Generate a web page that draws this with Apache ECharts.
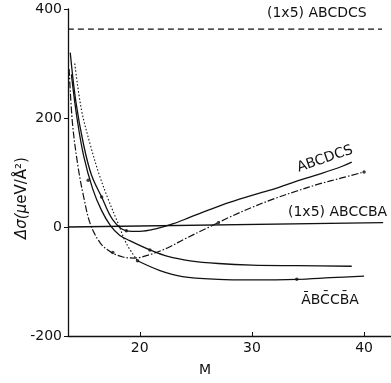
<!DOCTYPE html>
<html>
<head>
<meta charset="utf-8">
<script src="https://cdn.jsdelivr.net/npm/echarts@6/dist/echarts.min.js"></script>
<style>
  html, body { margin: 0; padding: 0; background: #fff; }
  #chart { width: 391px; height: 383px; }
</style>
</head>
<body>
<div id="chart"></div>
<script>
// M (x) vs delta sigma (y)
const xTicks = [20, 30, 40];
const yTicks = [-200, 0, 200, 400];

const flat1x5ABCDCS = [[13.6, 363], [41.6, 363]];
const flat1x5ABCCBA = [[13.6, 0], [41.7, 8]];

// dash-dot curve, rises to ~100
const curveA = [[13.7, 290], [14.0, 190], [14.5, 110], [15.0, 55], [15.6, 5], [16.5, -30], [17.5, -47],
  [18.5, -55], [19.5, -57], [21, -50], [22.5, -38], [24, -22], [26, -2], [28, 18], [30, 36],
  [32, 52], [34, 66], [36, 79], [38, 90], [40, 101]];

// ABCDCS
const curveB = [[13.8, 320], [14.3, 230], [15.0, 150], [15.7, 95], [16.6, 55], [17.6, 13], [18.8, -7],
  [20, -8], [21.5, -3], [23, 6], [24.5, 18], [26, 30], [28, 45], [30, 58], [32, 70], [34, 84],
  [36, 97], [38, 111], [38.9, 119]];

// levels off near -70
const curveC = [[13.9, 280], [14.4, 200], [15.0, 130], [15.8, 70], [16.6, 30], [17.4, 2], [18.2, -15],
  [19.1, -25], [20.9, -42], [22.5, -54], [24.5, -62], [27, -67], [30, -70], [34, -71], [38.9, -72]];

// lowest curve: dotted at the left, solid afterwards
const curveDleft = [[14.2, 300], [14.8, 215], [15.6, 150], [16.4, 95], [17.2, 50], [18.0, 10],
  [18.8, -30], [19.8, -62]];
const curveDright = [[19.8, -62], [21.8, -80], [23.8, -91], [27, -96], [30, -97], [34, -96],
  [37, -93], [40, -90]];

// visible data dots
const dots = [[16.6, 55], [18.8, -7], [17.6, -47], [40, 101], [19.8, -62], [34, -96], [15.4, 86],
  [27, 8], [20.9, -42]];

const FONT = 'DejaVu Sans';

const chart = echarts.init(document.getElementById('chart'));

function line(data, type, width) {
  return {
    type: 'line',
    data: data,
    smooth: 0.35,
    symbol: 'none',
    silent: true,
    lineStyle: { color: '#111', width: width || 1.2, type: type || 'solid' }
  };
}

const option = {
  backgroundColor: '#fff',
  animation: false,
  grid: { left: 68, right: 0, top: 9, bottom: 47 },
  xAxis: {
    type: 'value',
    min: 13.6,
    max: 42.4,
    splitLine: { show: false },
    axisLine: { onZero: false, lineStyle: { color: '#111', width: 1.3 } },
    axisTick: { inside: true, length: 4, lineStyle: { color: '#111' }, customValues: xTicks },
    axisLabel: { color: '#111', fontFamily: FONT, fontSize: 14, margin: 5, customValues: xTicks }
  },
  yAxis: {
    type: 'value',
    min: -200,
    max: 400,
    interval: 200,
    splitLine: { show: false },
    axisLine: { show: true, onZero: false, lineStyle: { color: '#111', width: 1.3 } },
    axisTick: { show: true, length: 4, lineStyle: { color: '#111' } },
    axisLabel: { color: '#111', fontFamily: FONT, fontSize: 14, margin: 6 }
  },
  graphic: [
    {
      type: 'text', x: 22, y: 198, rotation: Math.PI / 2,
      style: {
        text: '{i|Δσ(μ}{n|eV/Å²)}', align: 'center', verticalAlign: 'middle',
        rich: {
          i: { fontFamily: FONT, fontSize: 15, fontStyle: 'italic', fill: '#111' },
          n: { fontFamily: FONT, fontSize: 15, fill: '#111' }
        }
      }
    },
    { type: 'text', x: 205, y: 370, style: { text: 'M', fontFamily: FONT, fontSize: 14, fill: '#111', align: 'center', verticalAlign: 'middle' } },
    { type: 'text', x: 267, y: 13, style: { text: '(1x5) ABCDCS', fontFamily: FONT, fontSize: 14, fill: '#111', align: 'left', verticalAlign: 'middle' } },
    { type: 'text', x: 325, y: 159, rotation: 0.33, style: { text: 'ABCDCS', fontFamily: FONT, fontSize: 14, fill: '#111', align: 'center', verticalAlign: 'middle' } },
    { type: 'text', x: 288, y: 212, style: { text: '(1x5) ABCCBA', fontFamily: FONT, fontSize: 14, fill: '#111', align: 'left', verticalAlign: 'middle' } },
    { type: 'text', x: 330, y: 300, style: { text: 'A\u0304BC\u0304CB\u0304A', fontFamily: FONT, fontSize: 14, fill: '#111', align: 'center', verticalAlign: 'middle' } }
  ],
  series: [
    line(flat1x5ABCDCS, [6, 4], 1.3),
    line(flat1x5ABCCBA, 'solid', 1.4),
    line(curveA, [7, 2, 1.5, 2], 1.2),
    line(curveB, 'solid', 1.3),
    line(curveC, 'solid', 1.3),
    line(curveDleft, [1.5, 2], 1.1),
    line(curveDright, 'solid', 1.3),
    {
      type: 'scatter',
      data: dots,
      symbolSize: 3.5,
      silent: true,
      itemStyle: { color: '#111' }
    }
  ]
};

chart.setOption(option);
</script>
</body>
</html>
